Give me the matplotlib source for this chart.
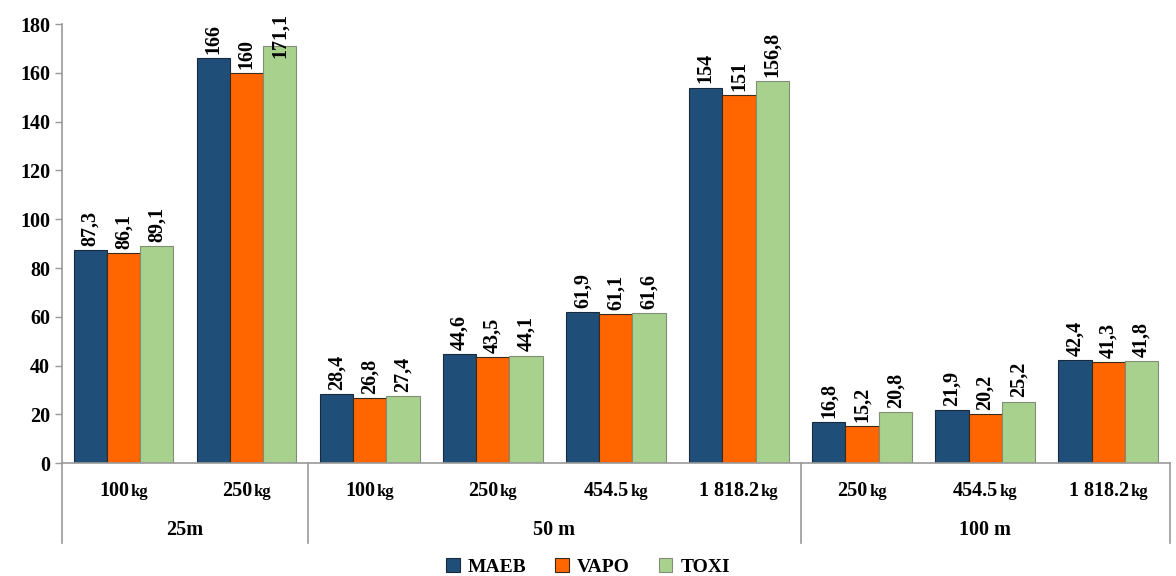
import numpy as np
import matplotlib.pyplot as plt
from matplotlib.offsetbox import TextArea, HPacker, AnnotationBbox

plt.rcParams['font.family'] = ['Liberation Serif', 'DejaVu Serif']
plt.rcParams['font.weight'] = 'bold'

# data
sizes = ['100', '250', '100', '250', '454.5', '1 818.2', '250', '454.5', '1 818.2']
groups = ['25m', '50 m', '100 m']
group_span = [(0, 1), (2, 5), (6, 8)]
series = ['MAEB', 'VAPO', 'TOXI']
maeb = [87.3, 166, 28.4, 44.6, 61.9, 154, 16.8, 21.9, 42.4]
vapo = [86.1, 160, 26.8, 43.5, 61.1, 151, 15.2, 20.2, 41.3]
toxi = [89.1, 171.1, 27.4, 44.1, 61.6, 156.8, 20.8, 25.2, 41.8]
colors = ['#1f4e79', '#ff6600', '#a9d18e']
edges = ['#1a2a3a', '#3a2a1a', '#7f8f77']

fig = plt.figure(figsize=(11.76, 5.76), dpi=100)
ax = fig.add_axes([0.0527, 0.196, 0.942, 0.762])

x = np.arange(len(sizes))
w = 0.27
for i, (vals, name) in enumerate(zip([maeb, vapo, toxi], series)):
    bars = ax.bar(x + (i - 1) * w, vals, w, color=colors[i], edgecolor=edges[i],
                  linewidth=0.8, label=name)
    for b, v in zip(bars, vals):
        # the tallest label sits partly inside its bar, as in the original
        dy = -9 if v > 170 else 3
        ax.annotate(('%g' % v).replace('.', ','), (b.get_x() + b.get_width() / 2, v),
                    xytext=(0, dy), textcoords='offset points', rotation=90,
                    ha='center', va='bottom', fontsize=14.5, fontweight='bold',
                    annotation_clip=False)

ax.set_xlim(-0.5, 8.5)
ax.set_ylim(0, 180)
ax.set_yticks(range(0, 181, 20))
ax.tick_params(axis='y', labelsize=14.5, color='#999999', length=5, width=1)
ax.set_xticks([])
for s in ['top', 'right']:
    ax.spines[s].set_visible(False)
for s in ['left', 'bottom']:
    ax.spines[s].set_color('#999999')
    ax.spines[s].set_linewidth(1.2)

# category labels: number + small "kg"
for xi, s in zip(x, sizes):
    box = HPacker(children=[TextArea(s, textprops=dict(fontsize=14.5, fontweight='bold')),
                            TextArea('kg', textprops=dict(fontsize=12, fontweight='bold'))],
                  align='baseline', pad=0, sep=1)
    ab = AnnotationBbox(box, (xi, 0), xycoords=ax.get_xaxis_transform(),
                        xybox=(0, -20), boxcoords='offset points', frameon=False,
                        annotation_clip=False)
    ax.add_artist(ab)

# group labels and separators
trans = ax.get_xaxis_transform()
for g, (a, b) in zip(groups, group_span):
    ax.text((a + b) / 2, -0.153, g, transform=trans, ha='center', va='center',
            fontsize=14.5, fontweight='bold')
for sx in [-0.5, 1.5, 5.5, 8.5]:
    ax.plot([sx, sx], [0, -0.182], transform=trans, color='#999999', lw=1.2,
            clip_on=False)

leg = fig.legend(loc='lower center', bbox_to_anchor=(0.5, -0.03), ncol=3, frameon=False,
                 prop=dict(size=14, weight='bold'), handlelength=0.7, handleheight=0.7,
                 handletextpad=0.4, columnspacing=1.5)

fig.savefig('out.png', dpi=100)
